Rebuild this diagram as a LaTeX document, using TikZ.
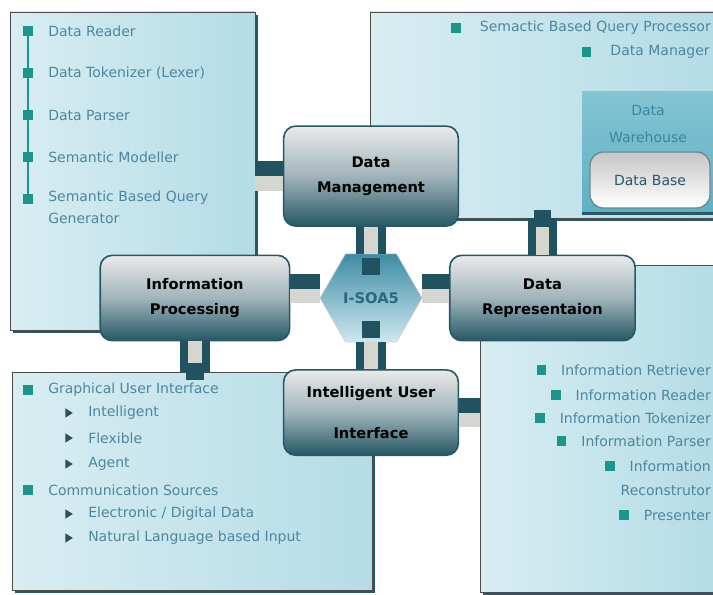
\documentclass[tikz,border=0pt]{standalone}
\usepackage{fontspec}
\setmainfont{DejaVu Sans}
\usetikzlibrary{calc}
\usetikzlibrary{positioning}
\usetikzlibrary{fit}
\usetikzlibrary{shadows}
\usetikzlibrary{shapes.geometric}

\definecolor{panelA}{RGB}{216,237,242}
\definecolor{panelB}{RGB}{180,220,231}
\definecolor{panelshade}{RGB}{40,88,100}
\definecolor{listtext}{RGB}{78,134,158}
\definecolor{bulletcol}{RGB}{28,150,138}
\definecolor{tricol}{RGB}{50,78,92}
\definecolor{nodetop}{RGB}{234,234,234}
\definecolor{nodemid}{RGB}{160,180,186}
\definecolor{nodedark}{RGB}{38,88,102}
\definecolor{linkdark}{RGB}{32,82,96}
\definecolor{linklight}{RGB}{214,214,208}
\definecolor{hexA}{RGB}{62,140,164}
\definecolor{hexB}{RGB}{206,232,240}
\definecolor{hextext}{RGB}{44,104,124}
\definecolor{whA}{RGB}{132,196,211}
\definecolor{whB}{RGB}{96,176,196}
\definecolor{whtextcol}{RGB}{58,136,156}

\tikzset{node distance=20pt, % gap between the hexagon and the four blocks
  every node/.style={align=center},
  panel/.style={ % light boxes that hold the lists
    draw=gray!60!black, thin, inner sep=0pt,
    left color=panelA, right color=panelB,
    drop shadow={shadow xshift=2.5pt, shadow yshift=-2.5pt, fill=panelshade, opacity=1}},
  procblock/.style={ % the four process blocks
    draw=nodedark, line width=1.2pt, rounded corners=9pt,
    top color=nodetop, bottom color=nodedark, middle color=nodemid,
    minimum width=131pt, minimum height=64pt,
    font=\fontsize{11}{19}\selectfont\bfseries},
  hexa/.style={regular polygon, regular polygon sides=6,
    minimum size=76.5pt, inner sep=0pt, draw=gray!40,
    top color=hexA, bottom color=hexB, text=hextext,
    font=\fontsize{11}{13}\selectfont\bfseries},
  warehouse/.style={inner sep=0pt, top color=whA, bottom color=whB,
    drop shadow={shadow xshift=0pt, shadow yshift=-2.5pt, fill=panelshade, opacity=1}},
  database/.style={draw=nodedark!70, line width=1pt, rounded corners=10pt,
    top color=gray!45, bottom color=white, text=nodedark,
    minimum width=90pt, minimum height=42pt, font=\fontsize{10.5}{13}\selectfont},
  listitem/.style={text=listtext, inner sep=0pt, align=left,
    font=\fontsize{10.5}{16.5}\selectfont},
  sqb/.style={fill=bulletcol, minimum size=7pt, inner sep=0pt},
  trib/.style={isosceles triangle, isosceles triangle stretches, fill=tricol,
    minimum width=7pt, minimum height=5.5pt, inner sep=0pt},
  vlink/.style={draw=linkdark, line width=6pt, double=linklight, double distance=10pt},
  hlink/.style={draw=linklight, line width=22pt,
    postaction={draw=linkdark, line width=11pt, transform canvas={yshift=5.5pt}}},
  linkcap/.style={fill=linkdark, minimum size=13pt, inner sep=0pt}
}

\begin{document}
\begin{tikzpicture}[x=0.75pt, y=-0.75pt]
  \useasboundingbox (0,0) rectangle (713,595);

  % panels
  \node[panel, fit={(10,12) (255,330)}] (readers) {};
  \node[panel, fit={(370,12) (716,218)}] (query) {};
  \node[panel, fit={(12,372) (372,590)}] (gui) {};
  \node[panel, fit={(480,265) (716,592)}] (info) {};

  % data warehouse
  \node[warehouse, fit={(582,92) (716,212)}] (wh) {};
  \node[text=whtextcol, font=\fontsize{10.5}{20}\selectfont] (whlabel) at (648,124) {Data\\Warehouse};
  \node[database] (db) at (650,180) {Data Base};

  % blocks round the hexagon
  \node[hexa] (iso) at (371,298) {I-SOA5};
  \node[procblock, above=of iso, minimum height=75pt] (dm) {Data\\Management};
  \node[procblock, left=22pt of iso, minimum width=142pt] (ip) {Information\\Processing};
  \node[procblock, right=of iso, minimum width=139pt] (dr) {Data\\Representaion};
  \node[procblock, below=of iso] (iui) {Intelligent User\\[12pt]Interface};

  % links
  \draw[hlink] (readers.east |- dm.west) -- (dm.west);
  \draw[hlink] ([yshift=7pt]ip.east) -- ([yshift=7pt]ip.east -| iso.west);
  \draw[hlink] ([yshift=7pt]dr.west -| iso.east) -- ([yshift=7pt]dr.west);
  \draw[hlink] (iui.east) -- (iui.east -| info.west);
  \draw[vlink] (iso.north |- dm.south) -- (iso.north) node[linkcap, anchor=north] (capdm) {};
  \draw[vlink] (iso.south |- iui.north) -- (iso.south) node[linkcap, anchor=south] (capiui) {};
  \draw[vlink] (dr.north) -- (dr.north |- query.south) node[linkcap] (capdr) {};
  \draw[vlink] (ip.south) -- (ip.south |- gui.north) node[linkcap] (capip) {};

  % reader list, bullets on a chain
  \draw[bulletcol, line width=1pt] (28,31) -- (28,199);
  \foreach \txt [count=\i] in {Data Reader, Data Tokenizer (Lexer), Data Parser, Semantic Modeller} {
    \node[sqb] (rb\i) at (28,-11+42*\i) {};
    \node[listitem, anchor=west] (rt\i) at (48,-11+42*\i) {\txt};
  }
  \node[sqb] (rb5) at (28,199) {};
  \node[listitem, anchor=north west] (rt5) at (48,191) {Semantic Based Query\\Generator};

  % query list
  \node[listitem, anchor=east] (qp) at (711,28) {Semactic Based Query Processor};
  \node[sqb, left=14pt of qp] (qpb) {};
  \node[listitem, anchor=east] (dmg) at (710,52) {Data Manager};
  \node[sqb, left=14pt of dmg] (dmgb) {};

  % gui list
  \foreach \y/\txt [count=\i] in {390/Graphical User Interface, 490/Communication Sources} {
    \node[sqb] (gb\i) at (28,\y) {};
    \node[listitem, anchor=west] (gt\i) at (48,\y) {\txt};
  }
  \foreach \y/\txt [count=\i] in {413/Intelligent, 438/Flexible, 464/Agent, 514/{Electronic / Digital Data}, 538/Natural Language based Input} {
    \node[trib] (sb\i) at (68,\y) {};
    \node[listitem, anchor=west] (st\i) at (88,\y) {\txt};
  }

  % information list
  \foreach \y/\txt [count=\i] in {370/Information Retriever, 395/Information Reader, 418/Information Tokenizer, 441/Information Parser, 466/Information, 515/Presenter} {
    \node[listitem, anchor=east] (it\i) at (711,\y) {\txt};
    \node[sqb, left=11pt of it\i] (ib\i) {};
  }
  \node[listitem, anchor=east] (it7) at (711,490) {Reconstrutor};
\end{tikzpicture}
\end{document}
